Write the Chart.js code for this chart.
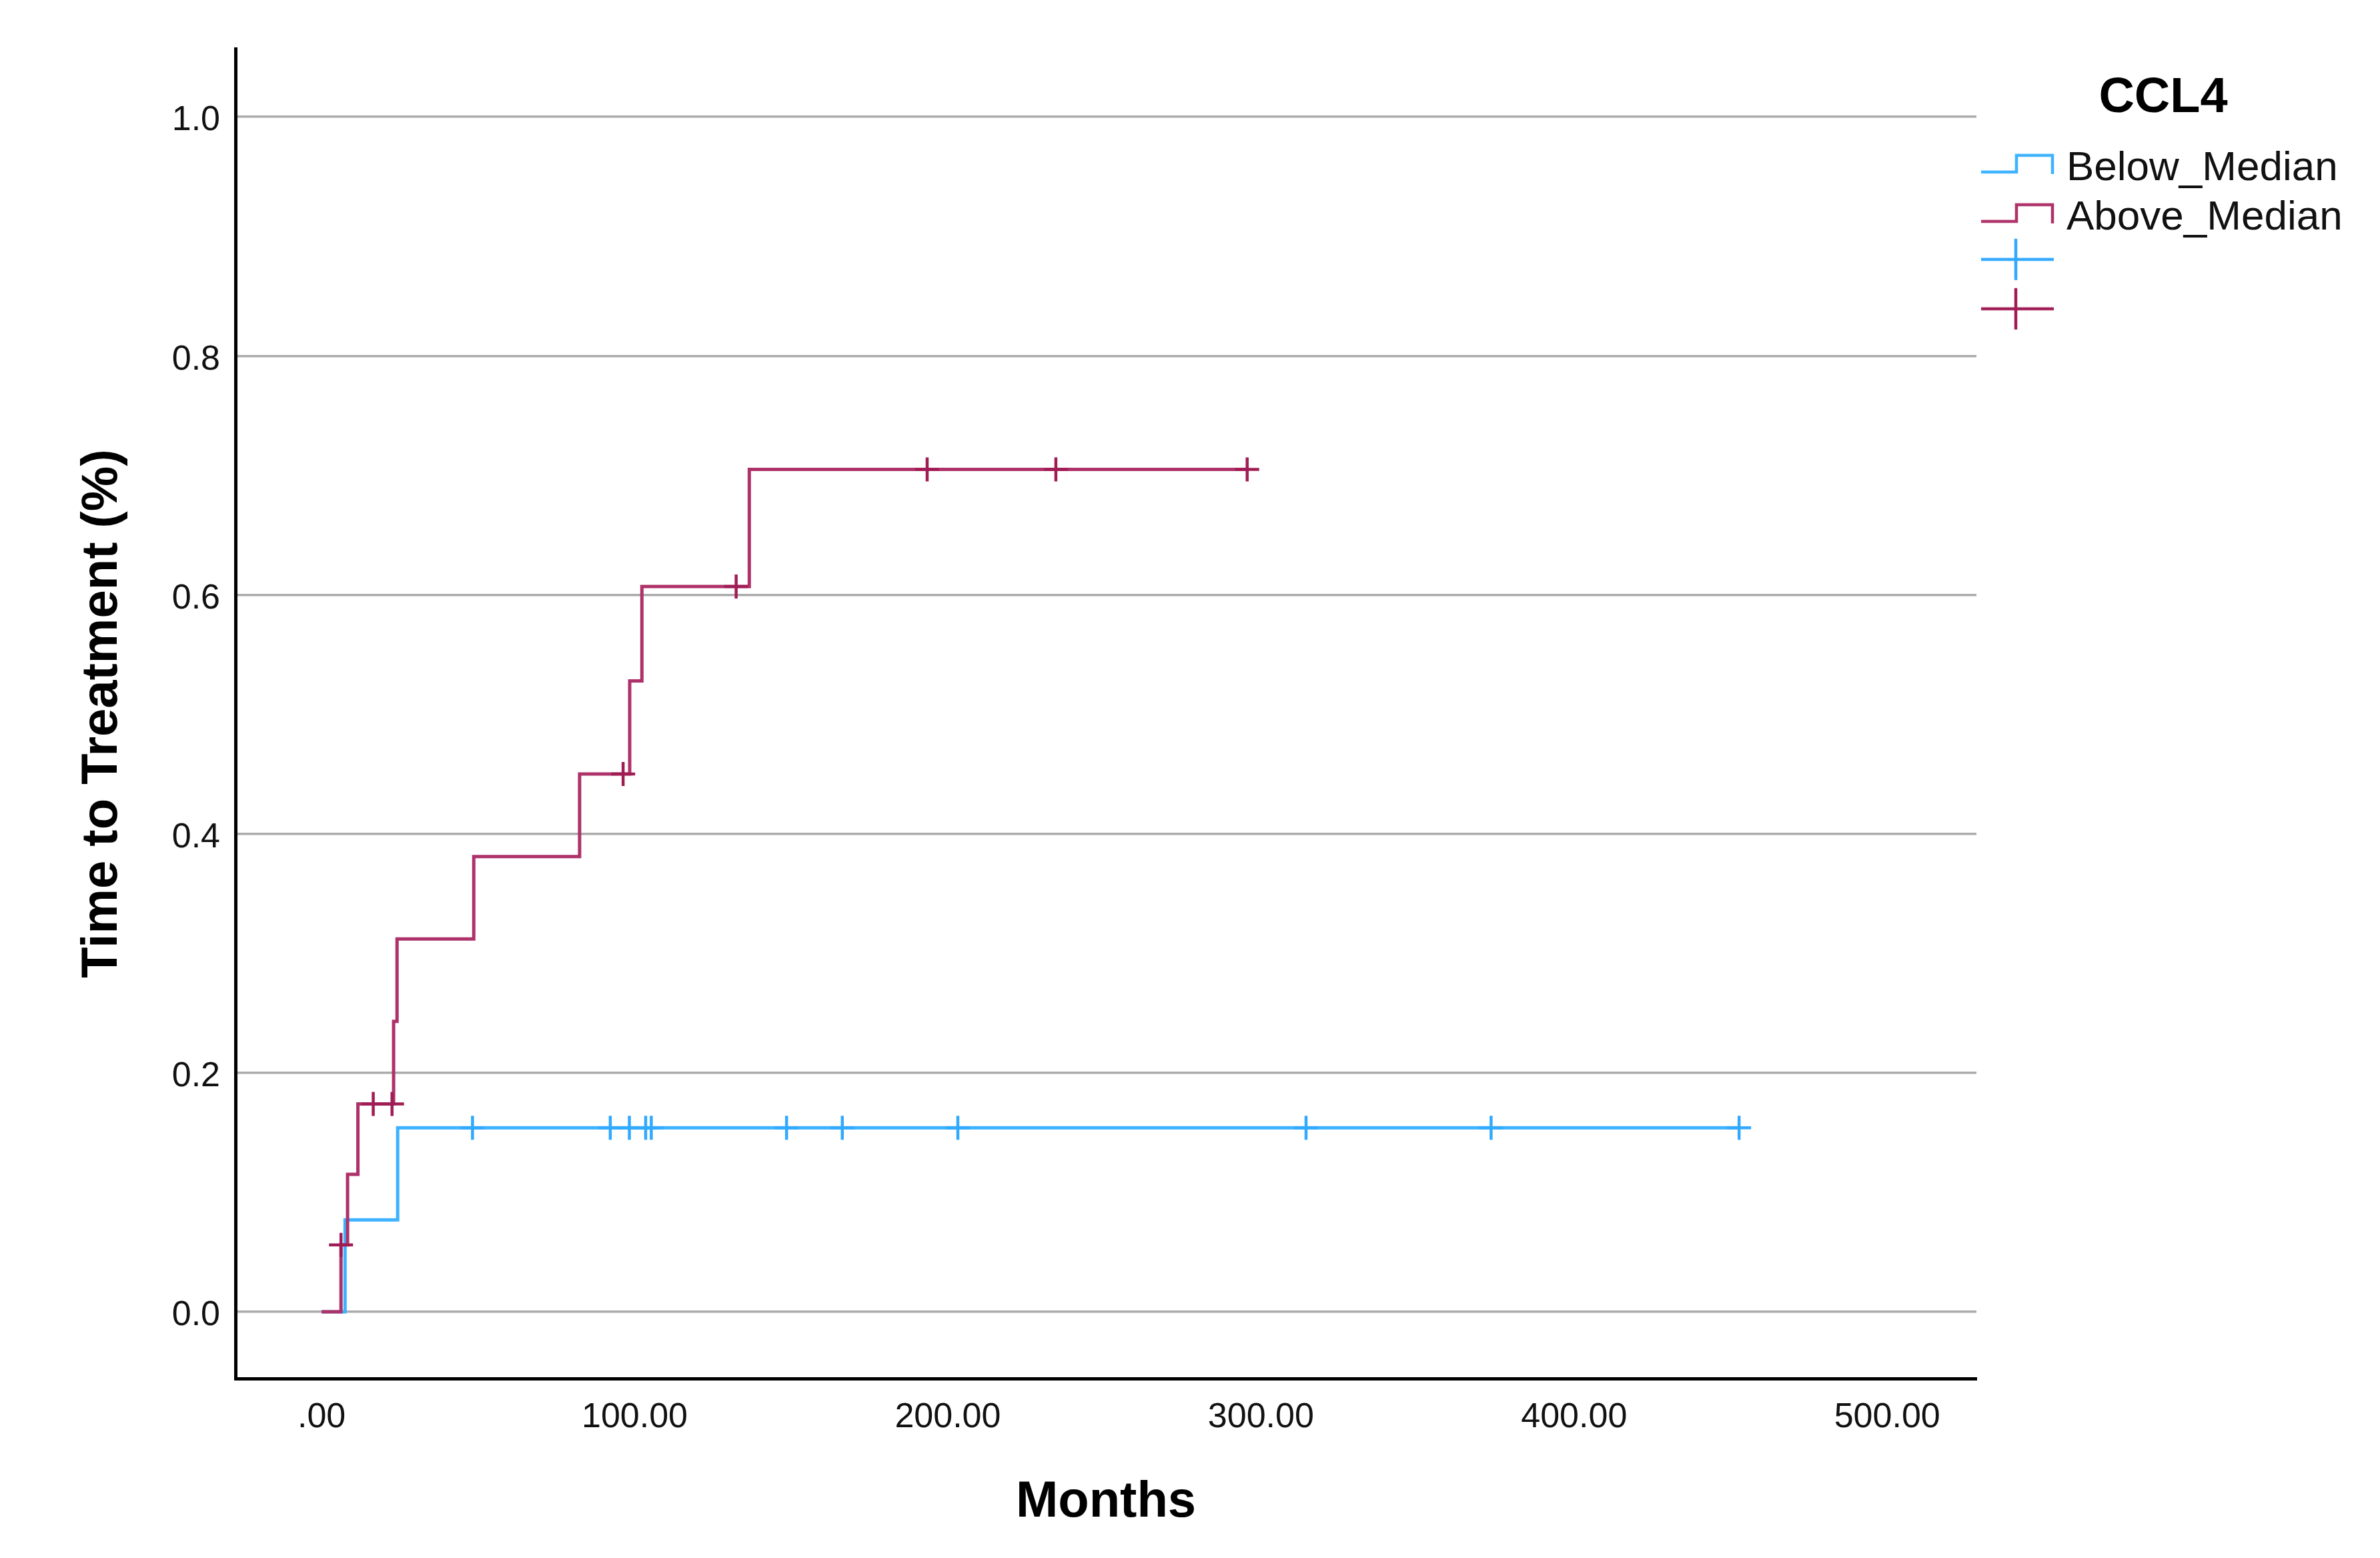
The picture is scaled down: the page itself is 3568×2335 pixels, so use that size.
<!DOCTYPE html>
<html>
<head>
<meta charset="utf-8">
<script src="https://cdn.jsdelivr.net/npm/chart.js@4.4.1/dist/chart.umd.min.js"></script>
<style>
  html, body { margin: 0; padding: 0; background: #ffffff; }
  #wrap { width: 3568px; height: 2335px; }
</style>
</head>
<body>
<div id="wrap"><canvas id="c" width="3568" height="2335"></canvas></div>
<script>
// ---- data ----
const redTimes  = [0, 6.2, 8.3, 11.6, 23.0, 24.1, 48.6, 82.4, 98.4, 102.3, 136.6, 295.6];
const redProbs  = [0, 0.056, 0.115, 0.174, 0.243, 0.312, 0.381, 0.450, 0.528, 0.607, 0.705, 0.705];
const blueTimes = [0, 7.5, 24.3, 452.7];
const blueProbs = [0, 0.077, 0.154, 0.154];
const redCensTimes  = [6.2, 16.5, 22.5, 96.3, 132.4, 193.4, 234.5, 295.6];
const redCensProbs  = [0.056, 0.174, 0.174, 0.450, 0.607, 0.705, 0.705, 0.705];
const blueCensTimes = [48.2, 92.2, 98.3, 103.5, 105.3, 148.5, 166.3, 203.2, 314.4, 373.5, 452.7];
const blueCensProbs = [0.154, 0.154, 0.154, 0.154, 0.154, 0.154, 0.154, 0.154, 0.154, 0.154, 0.154];
const seriesNames = ['Below_Median', 'Above_Median'];
const legendTitle = 'CCL4';
const xTickValues = [0, 100, 200, 300, 400, 500];
const xTickLabels = ['.00', '100.00', '200.00', '300.00', '400.00', '500.00'];
const yTickValues = [0, 0.2, 0.4, 0.6, 0.8, 1.0];
const yTickLabels = ['0.0', '0.2', '0.4', '0.6', '0.8', '1.0'];
const xTitle = 'Months';
const yTitle = 'Time to Treatment (%)';

// ---- styles ----
const BLUE = '#3DB2FF';
const BLUE_MARK = '#31A9FF';
const RED = '#AE3269';
const RED_MARK = '#A01C55';
const FONT = '"Liberation Sans", Arial, sans-serif';

function pts(xs, ys) { return xs.map((x, i) => ({ x: x, y: ys[i] })); }

function stepIcon(color) {
  const c = document.createElement('canvas');
  c.width = 120; c.height = 52;
  const g = c.getContext('2d');
  g.strokeStyle = color; g.lineWidth = 4.5; g.lineJoin = 'miter';
  g.beginPath();
  g.moveTo(9, 31); g.lineTo(62, 31); g.lineTo(62, 6); g.lineTo(116, 6); g.lineTo(116, 34);
  g.stroke();
  return c;
}
function crossIcon(color) {
  const c = document.createElement('canvas');
  c.width = 120; c.height = 88;
  const g = c.getContext('2d');
  g.strokeStyle = color; g.lineWidth = 4.5;
  g.beginPath();
  g.moveTo(9, 32); g.lineTo(118, 32);
  g.moveTo(61, 1); g.lineTo(61, 63);
  g.stroke();
  return c;
}
const icons = [stepIcon(BLUE), stepIcon(RED), crossIcon(BLUE_MARK), crossIcon(RED_MARK)];

const legendWidthPlugin = {
  id: 'legendWidth',
  beforeLayout(chart) {
    const lg = chart.legend;
    if (lg && !lg._fixedW) {
      const f = lg.fit;
      lg.fit = function () { f.call(this); this.width = 560; };
      lg._fixedW = true;
    }
  }
};

const ctx = document.getElementById('c').getContext('2d');
new Chart(ctx, {
  type: 'line',
  data: {
    datasets: [
      { label: seriesNames[0], data: pts(blueTimes, blueProbs), stepped: 'before',
        borderColor: BLUE, borderWidth: 5, pointRadius: 0, fill: false, order: 2 },
      { label: seriesNames[1], data: pts(redTimes, redProbs), stepped: 'before',
        borderColor: RED, borderWidth: 5, pointRadius: 0, fill: false, order: 1 },
      { label: seriesNames[0] + ' censored', data: pts(blueCensTimes, blueCensProbs), showLine: false,
        pointStyle: 'cross', pointRadius: 18, pointBorderWidth: 4.5, borderColor: BLUE_MARK, backgroundColor: BLUE_MARK, order: 0 },
      { label: seriesNames[1] + ' censored', data: pts(redCensTimes, redCensProbs), showLine: false,
        pointStyle: 'cross', pointRadius: 18, pointBorderWidth: 4.5, borderColor: RED_MARK, backgroundColor: RED_MARK, order: 0 }
    ]
  },
  options: {
    responsive: false,
    devicePixelRatio: 1,
    animation: false,
    events: [],
    layout: { padding: { top: 73, right: 45, bottom: 0, left: 0 } },
    scales: {
      x: {
        type: 'linear',
        min: -27.5, max: 528.5,
        afterFit(scale) { scale.height = 269; },
        afterBuildTicks(scale) { scale.ticks = xTickValues.map(v => ({ value: v })); },
        ticks: {
          padding: 27,
          color: '#111111',
          font: { family: FONT, size: 52 },
          maxRotation: 0,
          callback(value) { const i = xTickValues.indexOf(value); return i >= 0 ? xTickLabels[i] : ''; }
        },
        grid: { display: true, drawOnChartArea: false, drawTicks: false, color: 'rgba(0,0,0,0)' },
        border: { display: true, color: '#000000', width: 5 },
        title: { display: true, text: xTitle, color: '#000000', font: { family: FONT, size: 76, weight: 'bold' },
                 padding: { top: 0, bottom: 37 } }
      },
      y: {
        type: 'linear',
        min: -0.0558, max: 1.057,
        afterFit(scale) { scale.width = 353; },
        afterBuildTicks(scale) { scale.ticks = yTickValues.map(v => ({ value: v })); },
        ticks: {
          padding: 23,
          labelOffset: 6,
          color: '#111111',
          font: { family: FONT, size: 52 },
          callback(value) { const i = yTickValues.findIndex(v => Math.abs(v - value) < 1e-9); return i >= 0 ? yTickLabels[i] : ''; }
        },
        grid: { display: true, drawTicks: false, color: '#ABABAB', lineWidth: 3.5 },
        border: { display: true, color: '#000000', width: 5 },
        title: { display: true, text: yTitle, color: '#000000', font: { family: FONT, size: 76, weight: 'bold' },
                 padding: { top: 108, bottom: 0 } }
      }
    },
    plugins: {
      tooltip: { enabled: false },
      legend: {
        display: true,
        position: 'right',
        align: 'start',
        title: { display: true, text: legendTitle, color: '#000000', position: 'center',
                 font: { family: FONT, size: 74, weight: 'bold' }, padding: { top: 38, bottom: 10 } },
        labels: {
          usePointStyle: true,
          pointStyleWidth: 92,
          padding: 12,
          color: '#111111',
          font: { family: FONT, size: 62 },
          generateLabels() {
            return [
              { text: seriesNames[0], pointStyle: icons[0], hidden: false, datasetIndex: 0, lineWidth: 0, fontColor: '#111111' },
              { text: seriesNames[1], pointStyle: icons[1], hidden: false, datasetIndex: 1, lineWidth: 0, fontColor: '#111111' },
              { text: '', pointStyle: icons[2], hidden: false, datasetIndex: 2, lineWidth: 0, fontColor: '#111111' },
              { text: '', pointStyle: icons[3], hidden: false, datasetIndex: 3, lineWidth: 0, fontColor: '#111111' }
            ];
          }
        }
      }
    }
  },
  plugins: [legendWidthPlugin]
});
</script>
</body>
</html>
